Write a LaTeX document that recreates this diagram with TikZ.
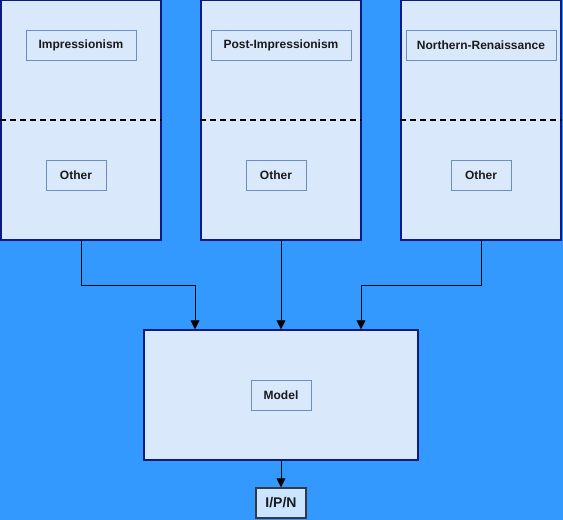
\documentclass[tikz,border=0pt]{standalone}
\usepackage{fontspec}
\setmainfont{Liberation Sans}
\usetikzlibrary{calc,arrows.meta}
\definecolor{bg}{HTML}{3399FF}
\definecolor{boxfill}{HTML}{DAE8FC}
\definecolor{boxline}{HTML}{0D1A80}
\definecolor{lblline}{HTML}{6C8EBF}
\definecolor{txt}{HTML}{1A1A1A}
\definecolor{outfill}{HTML}{CCE5FF}
\definecolor{outline}{HTML}{36393D}
\begin{document}
\begin{tikzpicture}[x=1pt,y=-1pt,
  bigbox/.style={draw=boxline,fill=boxfill,line width=1.5pt,minimum width=160pt,minimum height=240pt,inner sep=0pt},
  lbl/.style={draw=lblline,fill=boxfill,line width=0.8pt,minimum height=30pt,inner sep=0pt,text=txt,font=\fontsize{12}{14}\selectfont\bfseries},
  arr/.style={draw=black,line width=0.9pt,-{Triangle[length=9pt,width=9pt]}},
  sep/.style={draw=black,line width=1.8pt,dash pattern=on 6pt off 4pt}]
\fill[bg] (0,0) rectangle (563,520);
\useasboundingbox (0,0) rectangle (563,520);
% top boxes
\node[bigbox] (b1) at (81,120) {};
\node[bigbox] (b2) at (281,120) {};
\node[bigbox] (b3) at (481,120) {};
\draw[sep] (b1.west) -- (b1.east);
\draw[sep] (b2.west) -- (b2.east);
\draw[sep] (b3.west) -- (b3.east);
\node[lbl,minimum width=110pt] (l1) at (81,45) {Impressionism};
\node[lbl,minimum width=140pt] (l2) at (281,45) {Post-Impressionism};
\node[lbl,minimum width=150pt] (l3) at (481,45) {Northern-Renaissance};
\node[lbl,minimum width=60pt] (o1) at (76,175) {Other};
\node[lbl,minimum width=60pt] (o2) at (276,175) {Other};
\node[lbl,minimum width=60pt] (o3) at (481,175) {Other};
% model
\node[draw=boxline,fill=boxfill,line width=1.5pt,minimum width=274pt,minimum height=130pt,inner sep=0pt] (model) at (281,395) {};
\node[lbl,minimum width=60pt] (ml) at (281,395) {Model};
% output
\node[draw=outline,fill=outfill,line width=1.5pt,minimum width=50pt,minimum height=30pt,inner sep=0pt,text=txt,font=\fontsize{14}{16}\selectfont\bfseries] (out) at (281,503) {I/P/N};
% connectors
\coordinate (m1) at ($(model.north)+(-86,0)$);
\coordinate (m3) at ($(model.north)+(80,0)$);
\draw[arr] (b1.south) -- ++(0,45) -| (m1);
\draw[arr] (b2.south) -- (model.north);
\draw[arr] (b3.south) -- ++(0,45) -| (m3);
\draw[arr] (model.south) -- (out.north);
\end{tikzpicture}
\end{document}
